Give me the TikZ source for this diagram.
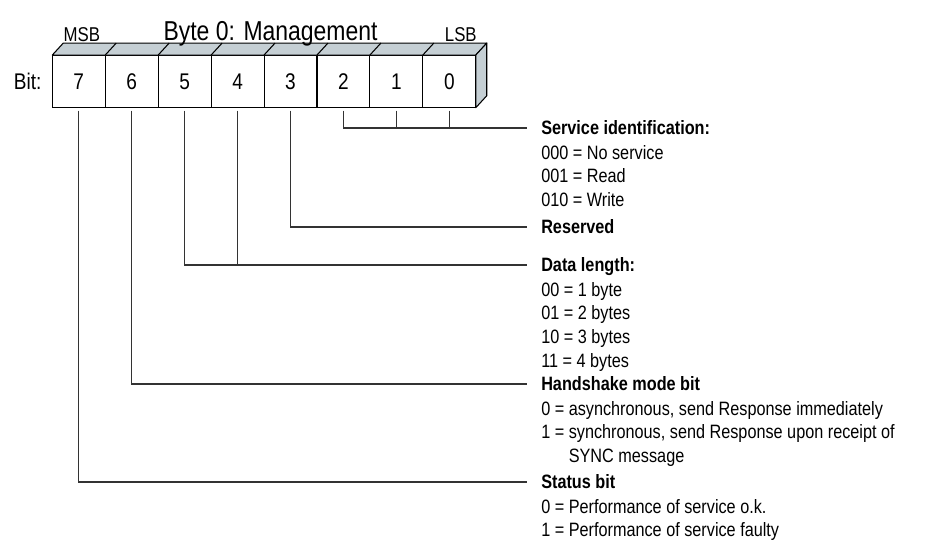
\documentclass[tikz,border=0pt]{standalone}
\usepackage{fontspec}
\setmainfont{Liberation Sans}[FakeStretch=0.84]
\usetikzlibrary{calc,positioning}
\definecolor{facegray}{RGB}{197,207,212}

\begin{document}
\begin{tikzpicture}[x=0.75pt,y=-0.75pt]

    \tikzstyle{bitbox}=[draw,fill=white,outer sep=0pt,inner sep=0pt,line width=0.8pt,minimum width=39.7pt,minimum height=39.5pt,font=\fontsize{17}{20}\selectfont]
    \tikzstyle{face}=[draw,fill=facegray,line width=0.8pt,line join=round]
    \tikzstyle{link}=[line width=0.9pt,black!80,shorten <=2.2pt,shorten >=10.5pt]
    \tikzstyle{tick}=[line width=0.9pt,black!80,shorten <=2.2pt]
    \tikzstyle{head}=[inner sep=0pt,anchor=west,text height=10.4pt,text depth=0pt,font=\fontsize{14.5}{17.7}\selectfont\bfseries]
    \tikzstyle{desc}=[inner sep=0pt,anchor=north west,align=left,font=\fontsize{14.5}{17.7}\selectfont]

    \useasboundingbox (0,0) rectangle (929,542);

    \node (b7) [bitbox,anchor=west] at (52.3,81.4) {7};
    \node (b6) [bitbox,right=0pt of b7] {6};
    \node (b5) [bitbox,right=0pt of b6] {5};
    \node (b4) [bitbox,right=0pt of b5] {4};
    \node (b3) [bitbox,right=0pt of b4] {3};
    \node (b2) [bitbox,right=0pt of b3] {2};
    \node (b1) [bitbox,right=0pt of b2] {1};
    \node (b0) [bitbox,right=0pt of b1] {0};

    % top and side of the byte
    \draw[face] (b7.north west) -- ++(11,-12) -- ($(b0.north east)+(11,-12)$) -- (b0.north east) -- cycle;
    \draw[face] (b0.north east) -- ++(11,-12) -- ($(b0.south east)+(11,-12)$) -- (b0.south east) -- cycle;
    \draw[line width=0.8pt] (b6.north west) -- ++(11,-12) (b5.north west) -- ++(11,-12)
        (b4.north west) -- ++(11,-12) (b3.north west) -- ++(11,-12) (b2.north west) -- ++(11,-12)
        (b1.north west) -- ++(11,-12) (b0.north west) -- ++(11,-12);

    \node (bitlbl) [left=8pt of b7,inner sep=0pt,font=\fontsize{17}{20}\selectfont] {Bit:};
    \node (msb) [anchor=base,inner sep=0pt,font=\fontsize{15}{17}\selectfont] at ($(b7.north)+(3,-13.5)$) {MSB};
    \node (lsb) [anchor=base,inner sep=0pt,font=\fontsize{15}{17}\selectfont] at ($(b0.north)+(11.5,-13.5)$) {LSB};
    \node (title) [anchor=base,inner sep=0pt,font=\fontsize{20.5}{24}\selectfont] at ($(b3.north west)+(6.5,-15)$) {Byte 0: Management};

    \node (sid) [head] at (541,128) {Service identification:};
    \node (sidtxt) [desc] at ($(sid.south west)+(0,9.8)$) {000 = No service\\001 = Read\\010 = Write};
    \node (res) [head] at (541,227) {Reserved};
    \node (dlen) [head] at (541,265) {Data length:};
    \node (dlentxt) [desc] at ($(dlen.south west)+(0,9.8)$) {00 = 1 byte\\01 = 2 bytes\\10 = 3 bytes\\11 = 4 bytes};
    \node (hs) [head] at (541,384) {Handshake mode bit};
    \node (hstxt) [desc] at ($(hs.south west)+(0,9.8)$) {0 = asynchronous, send Response immediately\\1 = synchronous, send Response upon receipt of\\\phantom{1 = }SYNC message};
    \node (stat) [head] at (541,482) {Status bit};
    \node (stattxt) [desc] at ($(stat.south west)+(0,9.8)$) {0 = Performance of service o.k.\\1 = Performance of service faulty};

    \draw[link] (b2.south) |- (sid.west);
    \draw[tick] (b1.south) -- (b1.south |- sid.west);
    \draw[tick] (b0.south) -- (b0.south |- sid.west);
    \draw[link] (b3.south) |- (res.west);
    \draw[link] (b5.south) |- (dlen.west);
    \draw[tick] (b4.south) -- (b4.south |- dlen.west);
    \draw[link] (b6.south) |- (hs.west);
    \draw[link] (b7.south) |- (stat.west);

\end{tikzpicture}
\end{document}
